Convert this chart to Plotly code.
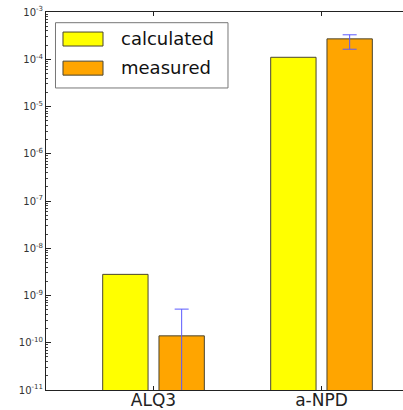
import plotly.graph_objects as go

categories = ["ALQ3", "a-NPD"]
calculated = [2.8e-9, 1.10e-4]
measured = [1.40e-10, 2.70e-4]
measured_err_plus = [3.75e-10, 0.59e-4]
measured_err_minus = [3.0e-10, 1.07e-4]
ytick_exps = [-11, -10, -9, -8, -7, -6, -5, -4, -3]
series_names = ["calculated", "measured"]
series_colors = ["#ffff00", "#ffa500"]

FONT = "DejaVu Sans"
edge = "#4a4530"

fig = go.Figure()
fig.add_trace(go.Bar(x=categories, y=calculated, name=series_names[0],
                     marker=dict(color=series_colors[0], line=dict(color=edge, width=1)),
                     showlegend=False))
fig.add_trace(go.Bar(x=categories, y=measured, name=series_names[1],
                     marker=dict(color=series_colors[1], line=dict(color=edge, width=1)),
                     error_y=dict(type="data", array=measured_err_plus,
                                  arrayminus=measured_err_minus, symmetric=False,
                                  color="#5a5aff", thickness=1, width=7),
                     showlegend=False))

# manual legend (matplotlib style)
shapes = [dict(type="rect", xref="paper", yref="paper", x0=0.0266, x1=0.5098,
               y0=0.799, y1=0.9717, line=dict(color="#777777", width=1),
               fillcolor="white", layer="above")]
annots = []
patch_y = [(0.910, 0.947), (0.833, 0.870)]
text_y = [0.9286, 0.8519]
for i in range(2):
    shapes.append(dict(type="rect", xref="paper", yref="paper", x0=0.0476, x1=0.1597,
                       y0=patch_y[i][0], y1=patch_y[i][1],
                       line=dict(color=edge, width=1), fillcolor=series_colors[i],
                       layer="above"))
    annots.append(dict(xref="paper", yref="paper", x=0.2045, y=text_y[i],
                       text=series_names[i], showarrow=False, xanchor="left",
                       yanchor="middle", font=dict(family=FONT, size=18, color="#111")))

fig.update_layout(
    width=403, height=410,
    margin=dict(l=46, r=0, t=12, b=20, autoexpand=False),
    paper_bgcolor="white", plot_bgcolor="white",
    barmode="group", bargap=0.33, bargroupgap=0.194,
    font=dict(family=FONT, color="#222"),
    shapes=shapes, annotations=annots,
)
fig.update_xaxes(
    type="category", range=[-0.64, 1.485], automargin=False,
    showline=True, linecolor="#222", linewidth=1, mirror="ticks",
    ticks="inside", ticklen=4, tickcolor="#222",
    tickfont=dict(size=17, family=FONT, color="#222"),
    ticklabelstandoff=-5,
    showgrid=False, zeroline=False,
)
fig.update_yaxes(
    type="log", range=[-11, -3], automargin=False,
    tickvals=[10 ** e for e in ytick_exps],
    ticktext=[f"10<sup>{e}</sup>" for e in ytick_exps],
    showline=True, linecolor="#222", linewidth=1, mirror=False,
    ticks="inside", ticklen=5, tickcolor="#222",
    tickfont=dict(size=10, family=FONT, color="#333"),
    minor=dict(ticks="inside", ticklen=2, tickcolor="#444", dtick="D1", showgrid=False),
    showgrid=False, zeroline=False,
)

fig.write_html(
    "out.html",
    config={"displayModeBar": False},
    post_script="document.body.style.margin='0';document.documentElement.style.overflow='hidden';",
)
